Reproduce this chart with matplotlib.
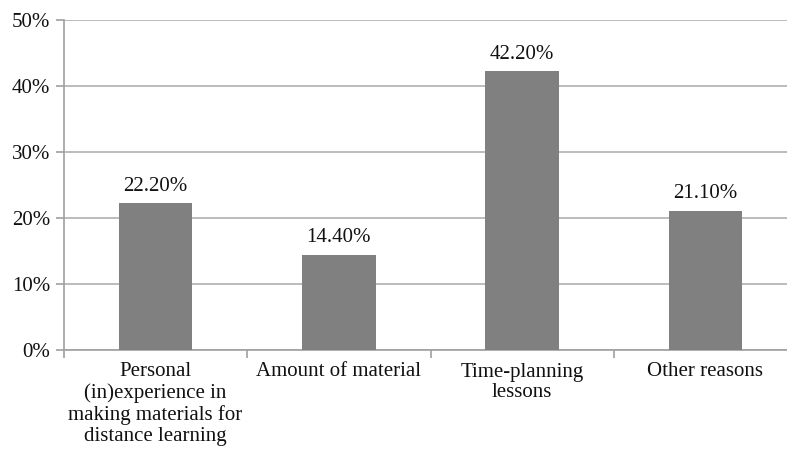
import matplotlib
matplotlib.use("Agg")
import matplotlib.pyplot as plt
from matplotlib.ticker import FuncFormatter, MultipleLocator, FixedLocator

categories = [
    "Personal\n(in)experience in\nmaking materials for\ndistance learning",
    "Amount of material",
    "Time-planning\nlessons",
    "Other reasons",
]
values = [22.2, 14.4, 42.2, 21.1]

plt.rcParams["font.family"] = ["Liberation Serif", "DejaVu Serif"]

fig = plt.figure(figsize=(7.87, 4.5), dpi=100)
ax = fig.add_axes([64 / 787, 100 / 450, 733 / 787, 330 / 450])

x = range(len(values))
ax.bar(x, values, width=0.4, color="#808080", zorder=3)

for xi, v in zip(x, values):
    ax.text(xi, v + 1.2, f"{v:.2f}%", ha="center", va="bottom", fontsize=15, color="#111111")

ax.set_ylim(0, 50)
ax.set_xlim(-0.5, len(values) - 0.5)
ax.yaxis.set_major_locator(MultipleLocator(10))
ax.yaxis.set_major_formatter(FuncFormatter(lambda v, p: f"{v:.0f}%"))
ax.grid(axis="y", color="#b0b0b0", linewidth=1.2, zorder=0)

ax.set_xticks(list(x))
ax.set_xticklabels(categories, fontsize=15, linespacing=1.13, color="#111111")
ax.tick_params(axis="x", length=0, pad=9)
ax.xaxis.set_minor_locator(FixedLocator([i - 0.5 for i in range(len(values) + 1)]))
ax.tick_params(axis="x", which="minor", length=6, color="#a0a0a0", width=1.2)
ax.tick_params(axis="y", length=6, color="#a0a0a0", width=1.2, labelsize=15, pad=4,
               labelcolor="#111111")

for side in ["top", "right"]:
    ax.spines[side].set_visible(False)
for side in ["left", "bottom"]:
    ax.spines[side].set_color("#a0a0a0")
    ax.spines[side].set_linewidth(1.2)

fig.savefig("out.png", dpi=100)
